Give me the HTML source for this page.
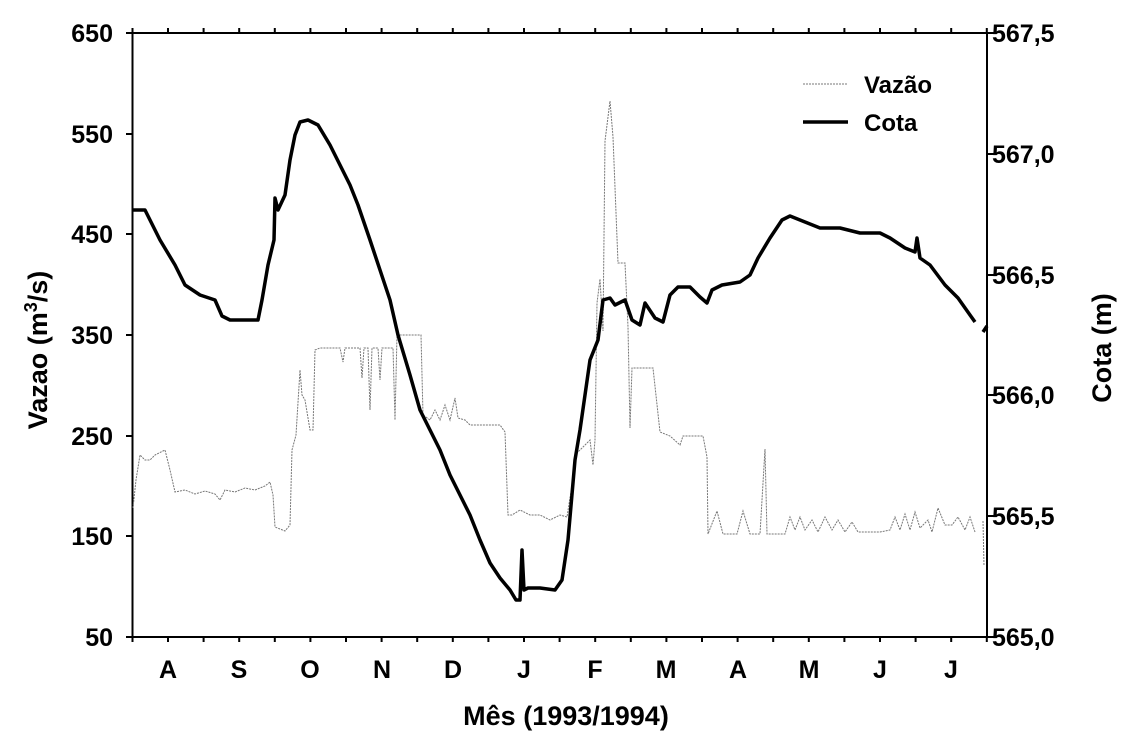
<!DOCTYPE html>
<html><head><meta charset="utf-8"><style>
html,body{margin:0;padding:0;background:#fff}
svg{display:block}
text{font-family:"Liberation Sans",Arial,sans-serif;font-weight:bold;fill:#000}
</style></head><body>
<svg width="1133" height="743" viewBox="0 0 1133 743" xmlns="http://www.w3.org/2000/svg">
<g stroke="#000" stroke-width="2" fill="none">
<rect x="132.5" y="33" width="854.5" height="604"/>
<path d="M126 33H132M126 134H132M126 234H132M126 335H132M126 436H132M126 536H132M126 637H132"/>
<path d="M987 33H994M987 154H994M987 275H994M987 395H994M987 516H994M987 637H994"/>
<path d="M132.5 637v5M168 637v5M203.6 637v5M239.2 637v5M274.8 637v5M310.4 637v5M346 637v5M381.6 637v5M417.2 637v5M452.8 637v5M488.4 637v5M524 637v5M559.6 637v5M595.2 637v5M630.8 637v5M666.4 637v5M702 637v5M737.6 637v5M773.2 637v5M808.8 637v5M844.4 637v5M880 637v5M915.6 637v5M951.2 637v5M986.8 637v5"/>
<path d="M132.5 33v-5M168 33v-5M203.6 33v-5M239.2 33v-5M274.8 33v-5M310.4 33v-5M346 33v-5M381.6 33v-5M417.2 33v-5M452.8 33v-5M488.4 33v-5M524 33v-5M559.6 33v-5M595.2 33v-5M630.8 33v-5M666.4 33v-5M702 33v-5M737.6 33v-5M773.2 33v-5M808.8 33v-5M844.4 33v-5M880 33v-5M915.6 33v-5M951.2 33v-5M986.8 33v-5"/>
</g>
<g font-size="25" text-anchor="end">
<text x="113" y="42">650</text><text x="113" y="143">550</text><text x="113" y="243">450</text>
<text x="113" y="344">350</text><text x="113" y="445">250</text><text x="113" y="545">150</text><text x="113" y="646">50</text>
</g>
<g font-size="25">
<text x="992" y="42">567,5</text><text x="992" y="163">567,0</text><text x="992" y="284">566,5</text>
<text x="992" y="404">566,0</text><text x="992" y="525">565,5</text><text x="992" y="646">565,0</text>
</g>
<g font-size="25" text-anchor="middle">
<text x="168" y="678">A</text><text x="239" y="678">S</text><text x="310" y="678">O</text><text x="382" y="678">N</text>
<text x="453" y="678">D</text><text x="524" y="678">J</text><text x="595" y="678">F</text><text x="666" y="678">M</text>
<text x="738" y="678">A</text><text x="809" y="678">M</text><text x="880" y="678">J</text><text x="951" y="678">J</text>
</g>
<text x="566" y="725" font-size="27" text-anchor="middle">Mês (1993/1994)</text>
<text transform="translate(47,350) rotate(-90)" font-size="27" text-anchor="middle">Vazao (m<tspan font-size="18" dy="-10">3</tspan><tspan dy="10">/s)</tspan></text>
<text transform="translate(1111,348) rotate(-90)" font-size="27" text-anchor="middle">Cota (m)</text>
<path fill="none" stroke="#777" stroke-width="1" stroke-dasharray="2,1" d="M133 508L136 480L140 455L145 460L150 460L155 455L165 450L170 470L175 492L185 490L195 494L205 491L215 494L220 500L225 490L235 492L245 488L255 490L265 486L270 482L273 495L275 527L285 531L290 525L292 450L296 435L300 370L302 395L305 400L310 430L313 430L315 350L320 348L340 348L343 362L345 348L360 348L362 378L364 348L368 348L370 410L372 348L378 348L380 380L382 348L393 348L395 420L397 335L408 335L421 335L423 415L430 420L435 410L440 420L445 405L450 420L455 398L458 418L465 420L470 425L480 425L500 425L505 432L508 515L512 515L520 510L530 515L540 515L550 520L560 515L567 517L577 453L590 440L593 465L595 440L597 303L600 279L603 331L605 141L610 101L613 137L617 238L618 263L625 263L628 327L630 428L632 368L653 368L660 432L670 436L680 445L683 436L703 436L707 457L708 534L717 511L723 534L737 534L743 511L750 534L760 534L765 449L767 534L785 534L790 517L795 530L800 517L805 530L812 520L818 532L825 517L832 530L838 520L845 532L852 522L858 532L868 532L880 532L890 530L895 517L900 530L905 514L910 530L915 512L920 528L928 520L932 532L938 508L945 525L952 525L958 517L965 530L970 517L975 532M983 521L984 566"/>
<path fill="none" stroke="#000" stroke-width="3.5" stroke-linejoin="round" d="M133 210L145 210L160 240L175 265L185 285L200 295L215 300L222 316L230 320L250 320L258 320L262 300L268 265L274 240L275 198L278 210L285 195L290 160L295 135L300 122L308 120L318 125L330 145L340 165L350 185L358 205L370 240L380 270L390 300L398 335L410 375L420 410L430 430L440 450L450 475L460 495L470 515L480 540L490 563L500 578L510 590L516 600L520 600L522 550L524 590L528 588L540 588L555 590L562 580L568 540L575 460L580 430L590 360L598 340L603 300L610 298L615 305L625 300L632 320L640 325L645 303L655 318L663 322L670 295L678 287L690 287L700 297L707 303L712 290L722 285L740 282L750 275L758 258L770 238L782 220L790 216L800 220L820 228L840 228L860 233L880 233L890 238L905 248L915 252L917 238L920 258L930 265L945 285L958 298L970 315L975 322M983 332L987 326"/>
<line x1="803" y1="84" x2="848" y2="84" stroke="#777" stroke-width="1" stroke-dasharray="2,1"/>
<line x1="803" y1="122" x2="848" y2="122" stroke="#000" stroke-width="3.5"/>
<text x="864" y="93" font-size="24">Vazão</text>
<text x="864" y="131" font-size="24">Cota</text>
</svg>
</body></html>
